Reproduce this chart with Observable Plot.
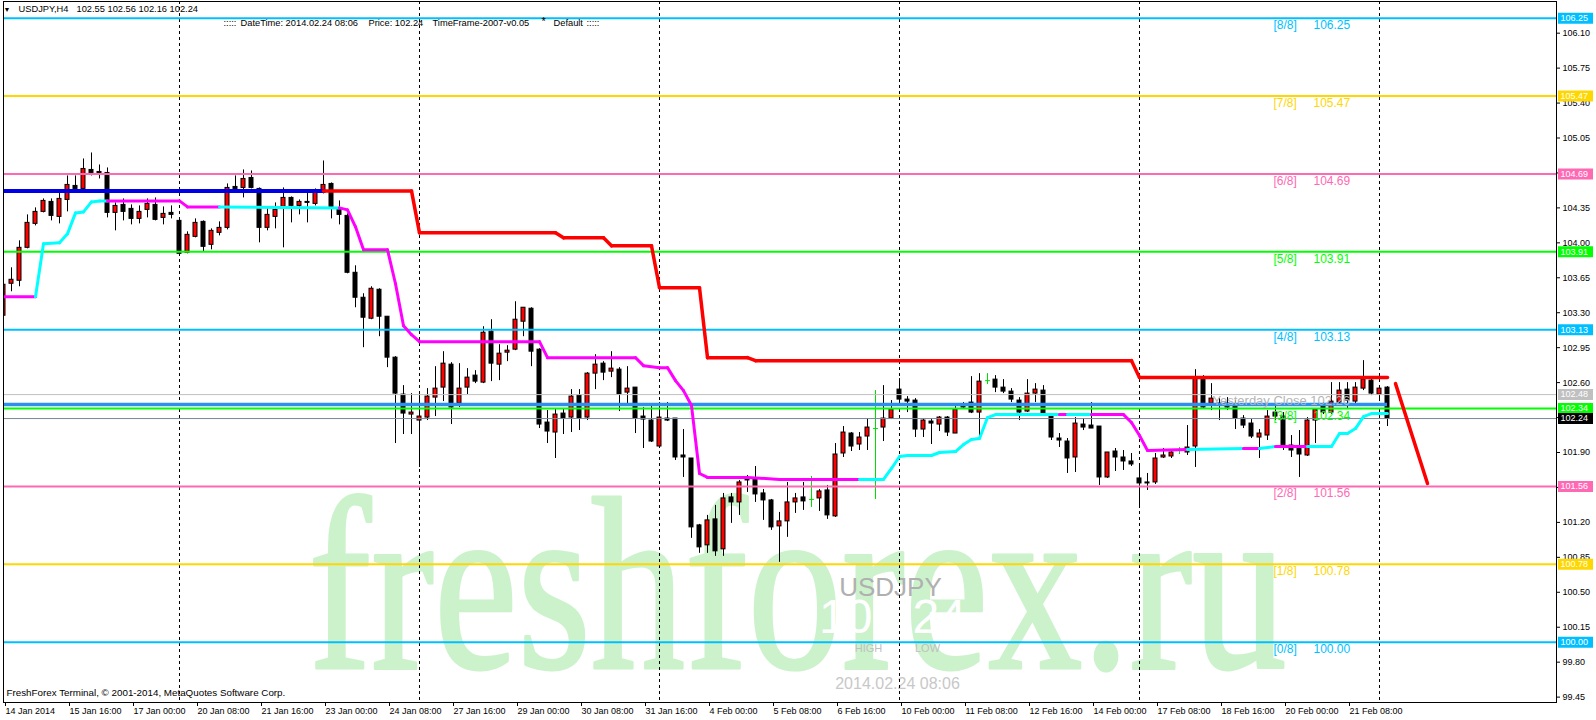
<!DOCTYPE html>
<html><head><meta charset="utf-8">
<script src="https://cdn.jsdelivr.net/npm/d3@7"></script>
<script src="https://cdn.jsdelivr.net/npm/@observablehq/plot@0.6"></script>
<style>
html,body{margin:0;padding:0;background:#fff;overflow:hidden;}
#chart svg{display:block;}
</style></head><body><div id="chart"></div>
<script>
// ---------- DATA (USDJPY H4, bar 0 = 14 Jan 2014 08:00) ----------
const barOpen = [103.27,103.59,103.62,103.95,104.19,104.31,104.41,104.26,104.43,104.57,
104.54,104.73,104.71,104.70,104.30,104.38,104.34,104.24,104.33,104.38,
104.25,104.30,104.22,103.90,104.06,104.21,103.98,104.10,104.15,104.56,
104.55,104.65,104.54,104.15,104.26,104.36,104.45,104.37,104.41,104.39,
104.50,104.59,104.33,104.27,103.70,103.45,103.24,103.53,103.26,102.85,
102.48,102.28,102.22,102.25,102.45,102.55,102.78,102.39,102.55,102.67,
102.60,103.11,102.78,102.90,102.93,103.21,103.34,102.93,102.20,102.10,
102.29,102.25,102.47,102.25,102.69,102.79,102.71,102.73,102.50,102.55,
102.26,102.22,101.96,102.24,102.24,101.87,101.84,101.17,100.97,101.23,
100.93,101.45,101.40,101.62,101.63,101.49,101.42,101.16,101.21,101.40,
101.45,101.43,101.44,101.52,101.26,101.89,102.09,101.98,102.06,102.14,
102.15,102.24,102.53,102.43,102.42,102.13,102.21,102.18,102.25,102.09,
102.36,102.40,102.30,102.62,102.63,102.55,102.51,102.42,102.31,102.49,
102.52,102.26,102.04,102.01,101.85,102.18,102.17,102.16,101.65,101.91,
101.85,101.81,101.64,101.60,101.60,101.85,101.86,101.92,101.90,101.96,
102.64,102.39,102.39,102.39,102.38,102.24,102.19,102.05,102.07,102.30,
102.26,101.97,101.94,101.87,102.22,102.37,102.30,102.40,102.53,102.41,
102.54,102.62,102.48,102.55];
const barHigh = [103.74,103.75,104.02,104.28,104.35,104.44,104.44,104.50,104.67,104.67,
104.84,104.90,104.78,104.75,104.40,104.44,104.38,104.37,104.44,104.45,
104.36,104.37,104.24,104.11,104.24,104.22,104.14,104.21,104.59,104.67,
104.73,104.72,104.55,104.35,104.40,104.55,104.46,104.43,104.50,104.54,
104.82,104.60,104.42,104.29,103.77,103.49,103.56,103.54,103.26,102.86,
102.57,102.49,102.49,102.54,102.76,102.91,102.80,102.79,102.74,102.72,
103.16,103.23,102.98,102.97,103.41,103.35,103.35,102.94,102.32,102.34,
102.34,102.53,102.53,102.70,102.88,102.81,102.91,102.75,102.76,102.55,
102.35,102.39,102.40,102.40,102.24,102.13,101.84,101.18,101.27,101.37,
101.49,101.49,101.62,101.67,101.76,101.53,101.43,101.30,101.60,101.49,
101.60,101.66,101.53,101.57,101.99,102.16,102.10,102.10,102.24,102.52,
102.57,102.42,102.64,102.46,102.44,102.24,102.24,102.26,102.26,102.36,
102.40,102.66,102.69,102.69,102.67,102.63,102.54,102.45,102.63,102.59,
102.57,102.27,102.09,102.04,102.25,102.24,102.40,102.16,101.90,101.94,
101.92,101.89,101.78,101.69,101.89,101.94,101.93,101.95,102.17,102.73,
102.67,102.59,102.44,102.45,102.42,102.27,102.23,102.13,102.32,102.36,
102.30,102.07,102.12,102.25,102.34,102.40,102.60,102.60,102.60,102.60,
102.82,102.65,102.55,102.56];
const barLow = [103.22,103.51,103.56,103.94,104.17,104.30,104.22,104.19,104.31,104.52,
104.53,104.67,104.64,104.25,104.12,104.22,104.18,104.19,104.25,104.22,
104.18,104.24,103.87,103.89,104.05,103.91,103.93,104.07,104.13,104.50,
104.45,104.54,104.00,104.12,104.14,103.95,104.20,104.28,104.20,104.37,
104.49,104.24,104.18,103.69,103.35,102.95,103.23,103.06,102.75,101.99,
102.08,102.08,101.75,102.22,102.26,102.41,102.18,102.35,102.48,102.59,
102.59,102.61,102.62,102.81,102.92,103.06,102.76,102.14,101.99,101.84,
102.08,102.10,102.12,102.22,102.53,102.62,102.65,102.31,102.39,102.09,
101.94,102.00,101.95,102.21,101.82,101.65,101.04,100.89,100.89,100.86,
100.86,101.19,101.27,101.50,101.40,101.22,101.12,100.80,101.05,101.29,
101.32,101.35,101.31,101.23,101.25,101.85,101.91,101.92,101.92,101.43,
102.01,102.23,102.39,102.30,102.05,102.05,101.98,102.11,102.06,102.09,
102.33,102.29,102.05,102.58,102.50,102.49,102.40,102.22,102.30,102.40,
102.28,102.02,101.95,101.69,101.70,102.12,102.14,101.57,101.64,101.71,
101.72,101.76,101.34,101.52,101.58,101.84,101.84,101.88,101.87,101.75,
102.34,102.32,102.22,102.32,102.13,102.14,102.04,101.84,102.02,102.22,
101.92,101.85,101.65,101.86,101.99,102.28,102.28,102.39,102.34,102.39,
102.52,102.47,102.41,102.16];
const barClose = [103.58,103.63,103.95,104.20,104.31,104.42,104.27,104.44,104.58,104.53,
104.74,104.70,104.69,104.30,104.37,104.31,104.24,104.31,104.39,104.23,
104.29,104.28,103.89,104.08,104.20,103.96,104.12,104.15,104.55,104.53,
104.64,104.55,104.15,104.28,104.33,104.45,104.37,104.41,104.40,104.50,
104.58,104.36,104.28,103.70,103.45,103.25,103.54,103.26,102.85,102.49,
102.29,102.30,102.26,102.46,102.54,102.79,102.35,102.54,102.65,102.61,
103.10,102.79,102.89,102.92,103.23,103.35,102.91,102.18,102.11,102.28,
102.24,102.46,102.24,102.69,102.78,102.70,102.74,102.48,102.54,102.24,
102.23,102.01,102.25,102.22,101.85,101.85,101.15,100.95,101.22,100.91,
101.44,101.40,101.60,101.63,101.48,101.42,101.15,101.21,101.40,101.44,
101.41,101.43,101.51,101.27,101.88,102.10,101.96,102.05,102.15,102.14,
102.24,102.33,102.43,102.41,102.13,102.22,102.19,102.25,102.10,102.33,
102.35,102.30,102.61,102.62,102.55,102.51,102.43,102.30,102.49,102.53,
102.29,102.05,102.02,101.84,102.19,102.15,102.14,101.65,101.90,101.85,
101.81,101.78,101.59,101.59,101.84,101.87,101.90,101.92,101.95,102.65,
102.35,102.44,102.37,102.35,102.24,102.17,102.06,102.09,102.26,102.26,
101.97,101.92,101.88,102.22,102.33,102.30,102.41,102.52,102.42,102.55,
102.63,102.49,102.54,102.24];

// time axis
const xTickIndex  = [0,8,16,24,32,40,48,56,64,72,80,88,96,104,112,120,128,136,144,152,160,168];
const xTickLabels = ["14 Jan 2014","15 Jan 16:00","17 Jan 00:00","20 Jan 08:00","21 Jan 16:00","23 Jan 00:00",
  "24 Jan 08:00","27 Jan 16:00","29 Jan 00:00","30 Jan 08:00","31 Jan 16:00","4 Feb 00:00","5 Feb 08:00",
  "6 Feb 16:00","10 Feb 00:00","11 Feb 08:00","12 Feb 16:00","14 Feb 00:00","17 Feb 08:00","18 Feb 16:00",
  "20 Feb 00:00","21 Feb 08:00"];
const weekSeparators = [22,52,82,112,142,172];
// price axis
const yTickValues = [106.10,105.75,105.40,105.05,104.70,104.35,104.00,103.65,103.30,102.95,102.60,
  102.25,101.90,101.55,101.20,100.85,100.50,100.15,99.80,99.45];
// Murrey math levels
const murreyLevels = [106.25,105.47,104.69,103.91,103.13,102.34,101.56,100.78,100.00];
const murreyNames  = ["[8/8]","[7/8]","[6/8]","[5/8]","[4/8]","[3/8]","[2/8]","[1/8]","[0/8]"];
const murreyKind   = ["a","b","c","d","a","d","c","b","a"];
// other horizontal lines
const yesterdayHigh = 102.48;
const bidPrice = 102.24;
const pivotLine = 102.38, pivotLineEnd = 173;
// resistance step line: [bar, price, kind]
const resistance = [[0,104.52,"blue"],[40,104.52,"red"],[51,104.52,"red"],[52,104.10,"red"],[69,104.10,"red"],
  [70,104.05,"red"],[75,104.05,"red"],[76,103.97,"red"],[81,103.97,"red"],[82,103.55,"red"],[87,103.55,"red"],
  [88,102.85,"red"],[93,102.85,"red"],[94,102.82,"red"],[141,102.82,"red"],[142,102.65,"red"],[173,102.65,"red"]];
// support trailing line: [bar, price, kind]
const support = [[0,103.46,"m"],[4,103.46,"c"],[5,103.99,"c"],[7,104.00,"c"],[8,104.09,"c"],[9,104.30,"c"],
  [10,104.31,"c"],[11,104.41,"c"],[12,104.42,"c"],[13,104.42,"m"],[22,104.42,"m"],[23,104.36,"m"],[27,104.36,"c"],
  [42,104.35,"m"],[43,104.33,"m"],[44,104.16,"m"],[45,103.93,"m"],[48,103.93,"m"],[49,103.59,"m"],[50,103.17,"m"],
  [51,103.08,"m"],[52,103.01,"m"],[67,103.01,"m"],[68,102.85,"m"],[79,102.85,"m"],[80,102.77,"m"],[82,102.75,"m"],
  [83,102.75,"m"],[84,102.62,"m"],[85,102.52,"m"],[86,102.37,"m"],[87,101.69,"m"],[88,101.65,"m"],[93,101.65,"m"],
  [97,101.63,"m"],[107,101.63,"c"],[110,101.63,"c"],[111,101.74,"c"],[112,101.86,"c"],[113,101.87,"c"],[116,101.87,"c"],
  [117,101.90,"c"],[119,101.91,"c"],[120,101.98,"c"],[121,102.03,"c"],[122,102.04,"c"],[123,102.25,"c"],[124,102.28,"c"],
  [132,102.28,"m"],[133,102.28,"c"],[136,102.28,"m"],[140,102.28,"m"],[141,102.20,"m"],[142,102.07,"m"],[143,101.92,"m"],
  [148,101.93,"c"],[155,101.94,"m"],[157,101.94,"c"],[159,101.96,"m"],[163,101.96,"c"],[166,101.96,"c"],[167,102.09,"c"],
  [168,102.09,"c"],[169,102.14,"c"],[170,102.26,"c"],[171,102.29,"c"],[173,102.29,"c"]];
// projected target line
const projection = [[174,102.59],[178,101.59]];
// right-axis price markers
const markerPrices = [106.25,105.47,104.69,103.91,103.13,102.48,102.34,101.56,100.78,100.00,102.24];
const markerKind   = ["a","b","c","d","a","s","d","c","b","a","k"];

// ---------- STYLE ----------
const levelColor = {a:"#00bfff", b:"#ffd700", c:"#ff69b4", d:"#00ff00", s:"#c0c0c0", k:"#000000"};
const lineColor = {blue:"#0000e6", red:"#ff0000", m:"#ff00ff", c:"#00ffff"};
const FONT = "'Liberation Sans', Arial, sans-serif";

// ---------- BUILD ----------
const bars = barOpen.map((o,i)=>({i, o, h:barHigh[i], l:barLow[i], c:barClose[i]}));
const bodies = bars.filter(d=>d.o!==d.c);
const dojis = bars.filter(d=>d.o===d.c);
const segs = (v, colorMap) => v.slice(0,-1).map((p,k)=>({x1:p[0], y1:p[1], x2:v[k+1][0], y2:v[k+1][1], kind:p[2], stroke:colorMap[p[2]]}));
const resSegs = segs(resistance, lineColor);
const supSegs = segs(support, lineColor);
const murrey = murreyLevels.map((p,k)=>({p, name:murreyNames[k], color:levelColor[murreyKind[k]]}));
const markers = markerPrices.map((p,k)=>({p, color:levelColor[markerKind[k]]}));
const px = v => (v-3)/8;   // pixel column -> bar position on this chart
const ML=3, MT=1;
const fixed = (txt, xp, yp, o={}) => Plot.text([txt], {text:d=>d, frameAnchor:"top-left", dx:xp-ML, dy:yp-MT, textAnchor:"start", lineAnchor:"middle", ...o});

const chart = Plot.plot({
  width:1596, height:720,
  marginLeft:ML, marginRight:40, marginTop:MT, marginBottom:18,
  style:{fontFamily:FONT, fontSize:"9px", background:"#fff", color:"#000"},
  x:{type:"linear", domain:[0,199.125], range:[3,1596]},
  y:{type:"linear", domain:[100,106.25], range:[641.7,17.7]},
  color:{type:"identity"},
  marks:[
    // watermark
    fixed("freshforex.ru", 308, 667, {fontFamily:"'Liberation Serif','Times New Roman',serif", fontSize:246, fill:"#ccf2cc", stroke:"#ccf2cc", strokeWidth:3, lineAnchor:"bottom"}),
    fixed("USDJPY", 890, 595, {fontSize:26, fill:"#b0b0b0", textAnchor:"middle", lineAnchor:"bottom"}),
    fixed("102.24", 892, 632, {fontSize:48, fill:"#ffffff", textAnchor:"middle", lineAnchor:"bottom"}),
    fixed("HIGH", 868, 651, {fontSize:11, fill:"#c0c0c0", textAnchor:"middle", lineAnchor:"bottom"}),
    fixed("LOW", 927, 651, {fontSize:11, fill:"#c0c0c0", textAnchor:"middle", lineAnchor:"bottom"}),
    fixed("2014.02.24 08:06", 897, 688, {fontSize:16, fill:"#c8c8c8", textAnchor:"middle", lineAnchor:"bottom"}),
    // period separators
    Plot.ruleX(weekSeparators, {x:d=>d, stroke:"#000", strokeDasharray:"3,3", strokeWidth:1}),
    // candles
    Plot.ruleX(bars, {x:"i", y1:"l", y2:"h", stroke:d=>d.o===d.c?"#00dd00":"#000", strokeWidth:1, clip:true}),
    Plot.rect(bodies, {x1:d=>d.i-0.25, x2:d=>d.i+0.25, y1:"o", y2:"c", fill:d=>d.c>d.o?"#ff0000":"#000000", stroke:"#000", strokeWidth:1, clip:true}),
    Plot.link(dojis, {x1:d=>d.i-0.3, x2:d=>d.i+0.3, y1:"o", y2:"o", stroke:"#00dd00", strokeWidth:1}),
    // horizontal levels
    Plot.ruleY(murrey, {y:"p", stroke:"color", strokeWidth:2}),
    Plot.ruleY([yesterdayHigh], {stroke:"#c0c0c0", strokeWidth:1}),
    Plot.ruleY([bidPrice], {stroke:"#778899", strokeWidth:1}),
    Plot.ruleY([pivotLine], {x1:0, x2:pivotLineEnd, stroke:"#2f8ff0", strokeWidth:3.5, clip:true}),
    // indicator lines
    Plot.link(resSegs, {x1:"x1", y1:"y1", x2:"x2", y2:"y2", stroke:"stroke", strokeWidth:d=>d.kind==="blue"?4:3.5, strokeLinecap:"round", clip:true}),
    Plot.link(supSegs, {x1:"x1", y1:"y1", x2:"x2", y2:"y2", stroke:"stroke", strokeWidth:3, strokeLinecap:"round", clip:true}),
    Plot.line(projection, {x:d=>d[0], y:d=>d[1], stroke:"#ff0000", strokeWidth:3.5}),
    // level labels
    Plot.text(murrey, {y:"p", text:"name", fill:"color", frameAnchor:"left", dx:1270, dy:11, textAnchor:"start", lineAnchor:"bottom", fontSize:12}),
    Plot.text(murrey, {y:"p", text:d=>d.p.toFixed(2), fill:"color", frameAnchor:"left", dx:1310, dy:11, textAnchor:"start", lineAnchor:"bottom", fontSize:12}),
    Plot.text([bidPrice], {y:()=>pivotLine, text:()=>"Yesterday Close 102.26", frameAnchor:"left", dx:1209, dy:0, textAnchor:"start", lineAnchor:"bottom", fontSize:13, fill:"#b4b4b4"}),
    // frame & axes
    Plot.frame({stroke:"#000"}),
    Plot.axisY(yTickValues, {anchor:"right", tickFormat:d=>d.toFixed(2), tickSize:3, tickPadding:3, fontSize:9, label:null}),
    Plot.axisX(xTickIndex, {anchor:"bottom", tickFormat:d=>xTickLabels[xTickIndex.indexOf(d)], tickSize:4, tickPadding:1, textAnchor:"start", dx:2, fontSize:9, label:null}),
    Plot.ruleY(markers, {y:"p", x1:px(1558), x2:px(1593), stroke:"color", strokeWidth:11}),
    Plot.text(markers, {y:"p", text:d=>d.p.toFixed(2), frameAnchor:"right", dx:4, textAnchor:"start", fill:"#fff", fontSize:9}),
    // header texts
    fixed("\u25BC", 3, 9, {fontSize:7}),
    fixed("USDJPY,H4", 18, 9, {fontSize:9.3}),
    fixed("102.55 102.56 102.16 102.24", 76, 9, {fontSize:9.3}),
    fixed(":::::", 223, 23, {fontSize:9.3}),
    fixed("DateTime: 2014.02.24 08:06", 240, 23, {fontSize:9.3}),
    fixed("Price: 102.24", 368, 23, {fontSize:9.3}),
    fixed("TimeFrame-2007-v0.05", 432, 23, {fontSize:9.3}),
    fixed("*", 541, 21, {fontSize:11}),
    fixed("Default", 553, 23, {fontSize:9.3}),
    fixed(":::::", 586, 23, {fontSize:9.3}),
    fixed("FreshForex Terminal, \u00A9 2001-2014, MetaQuotes Software Corp.", 6, 692, {fontSize:9.8})
  ]
});
d3.select(chart).selectAll("text").filter(function(){return this.textContent==="freshforex.ru";})
  .attr("textLength", 978).attr("lengthAdjust", "spacingAndGlyphs");
document.getElementById("chart").append(chart);
</script></body></html>
